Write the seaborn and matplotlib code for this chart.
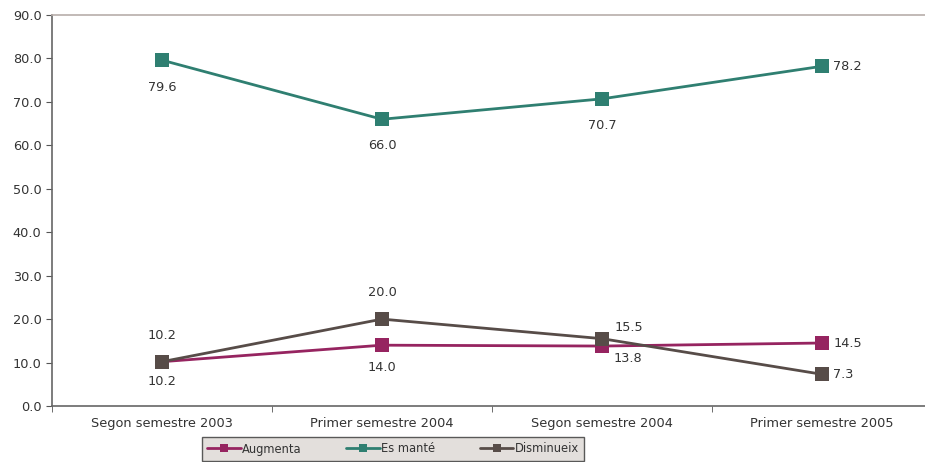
import pandas as pd
import seaborn as sns
import matplotlib.pyplot as plt
from matplotlib.ticker import FixedLocator

sns.set_style("white")
plt.rcParams['font.family'] = ['DejaVu Sans']

# ======================
# data

periods = ['Segon semestre 2003', 'Primer semestre 2004',
           'Segon semestre 2004', 'Primer semestre 2005']
augmenta = [10.2, 14.0, 13.8, 14.5]
es_mante = [79.6, 66.0, 70.7, 78.2]
disminueix = [10.2, 20.0, 15.5, 7.3]

series_names = ['Augmenta', 'Es manté', 'Disminueix']
colours = ['#962460', '#2f7f71', '#574c48']

df = pd.DataFrame({'periode': list(range(4)) * 3,
                   'valor': augmenta + es_mante + disminueix,
                   'serie': [s for s in series_names for _ in range(4)]})

# label placement (offset in points), per series
label_offsets = {
    'Augmenta': [(0, -14), (0, -16), (8, -9), (8, 0)],
    'Es manté': [(0, -20), (0, -19), (0, -19), (8, 0)],
    'Disminueix': [(0, 19), (0, 19), (9, 8), (8, 0)],
}

# ======================
# plot

fig = plt.figure(figsize=(9.25, 4.62), dpi=100)
ax = fig.add_axes([52 / 925, 1 - 406 / 462, 880 / 925, 391 / 462])

sns.lineplot(data=df, x='periode', y='valor', hue='serie',
             palette=dict(zip(series_names, colours)),
             marker='s', markersize=10, markeredgewidth=0,
             linewidth=2.0, ax=ax, legend=True)

for name, vals in zip(series_names, [augmenta, es_mante, disminueix]):
    for i, v in enumerate(vals):
        dx, dy = label_offsets[name][i]
        ha = 'left' if dx > 0 else 'center'
        ax.annotate(f'{v:.1f}', (i, v), xytext=(dx, dy),
                    textcoords='offset points', ha=ha, va='center',
                    fontsize=9.3, color='#333333')

ax.set_xlim(-0.5, 3.5)
ax.set_ylim(0, 90)
ax.set_yticks(range(0, 91, 10))
ax.set_yticklabels([f'{v:.1f}' for v in range(0, 91, 10)])
ax.set_xticks(range(4))
ax.set_xticklabels(periods)
ax.xaxis.set_minor_locator(FixedLocator([-0.5, 0.5, 1.5, 2.5, 3.5]))
ax.tick_params(axis='x', which='major', length=0, pad=8, labelsize=9.3, labelcolor='#333333')
ax.tick_params(axis='x', which='minor', length=4, color='#555555', direction='out', bottom=True)
ax.tick_params(axis='y', length=4, color='#555555', direction='out', left=True,
               labelsize=9.3, labelcolor='#333333')
ax.set_xlabel('')
ax.set_ylabel('')

for side in ['left', 'bottom']:
    ax.spines[side].set_color('#666666')
    ax.spines[side].set_linewidth(1.2)
ax.spines['top'].set_color('#b8aeaa')
ax.spines['top'].set_linewidth(1.2)
ax.spines['right'].set_visible(False)

handles, labels = ax.get_legend_handles_labels()
for h in handles:
    h.set_markersize(6)
leg = fig.legend(handles, labels, loc='center', bbox_to_anchor=(393 / 925, 1 - 449 / 462),
                 ncol=3, frameon=True, fontsize=8.3, fancybox=False,
                 handlelength=2.9, handletextpad=0.1, columnspacing=3.9,
                 borderpad=0.45, borderaxespad=0, labelcolor='#333333')
ax.get_legend().remove()
leg.get_frame().set_facecolor('#ddd8d4')
leg.get_frame().set_edgecolor('#333333')
leg.get_frame().set_linewidth(1.0)

plt.savefig('out.png', dpi=100)
plt.close()
